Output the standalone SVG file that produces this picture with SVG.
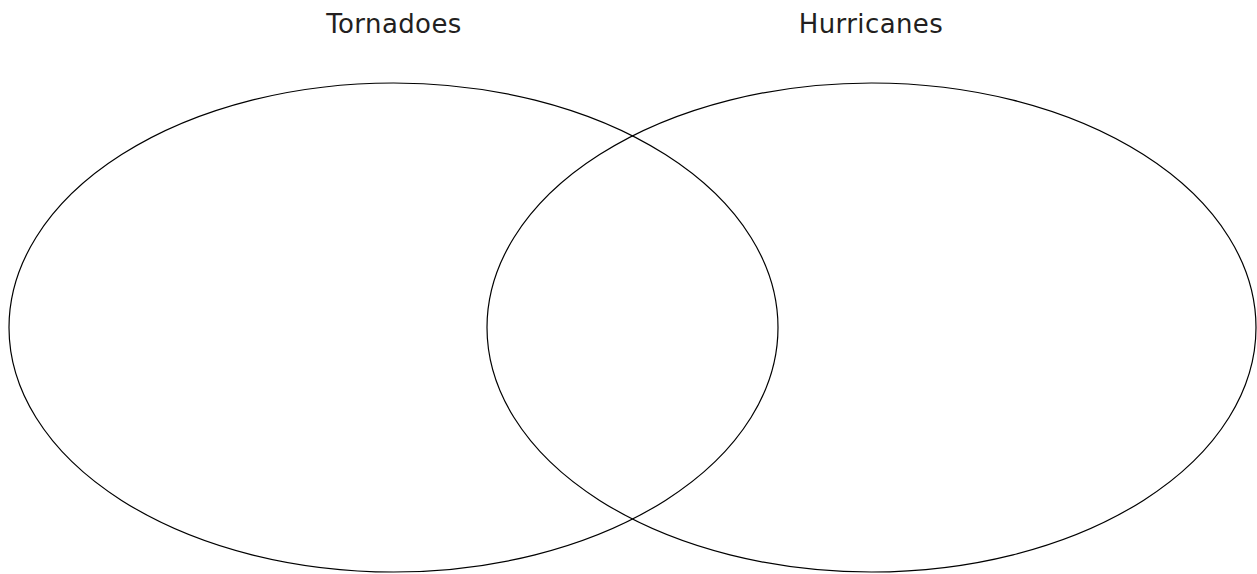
<svg xmlns="http://www.w3.org/2000/svg" width="1257" height="574" viewBox="0 0 1257 574">
<style>
.set{fill:none;stroke:#000;stroke-width:1.2}
.lbl{font-family:"DejaVu Sans",sans-serif;font-size:26px;letter-spacing:0.4px;fill:#231f20;text-anchor:middle}
</style>
<rect width="1257" height="574" fill="#fff"/>
<g id="tornadoes">
<ellipse class="set" cx="393.5" cy="327.5" rx="384.5" ry="244.5"/>
<text class="lbl" x="394" y="33">Tornadoes</text>
</g>
<g id="hurricanes">
<ellipse class="set" cx="871.5" cy="327.5" rx="384.5" ry="244.5"/>
<text class="lbl" x="871" y="33">Hurricanes</text>
</g>
<g id="connectors"></g>
</svg>
